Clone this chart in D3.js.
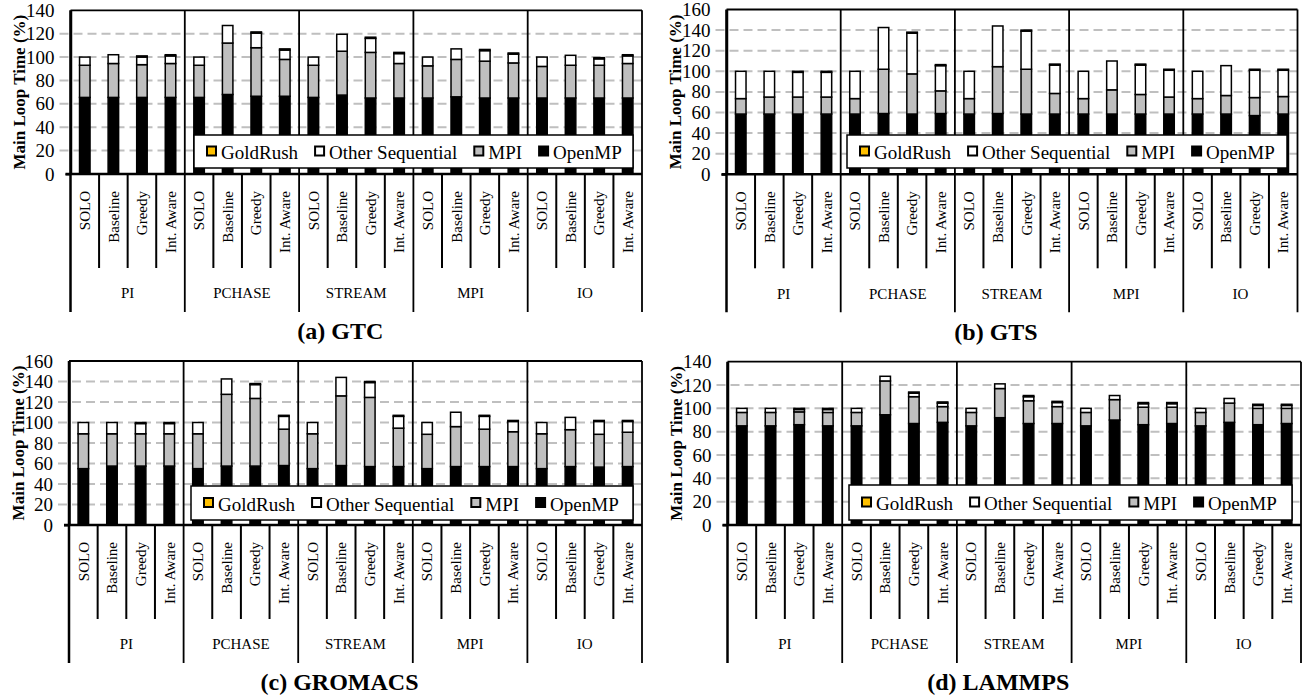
<!DOCTYPE html>
<html>
<head>
<meta charset="utf-8">
<script src="https://cdn.jsdelivr.net/npm/d3@7"></script>
<style>
  body { margin: 0; background: #fff; }
  svg { display: block; }
  svg text { font-family: "Liberation Serif", "Times New Roman", Times, serif; fill: #000; }
</style>
</head>
<body>
<svg id="chart" width="1304" height="698" font-family="Liberation Serif, Times New Roman, serif"></svg>
<script>
// Categories: five interference workloads, four schedulers each
const groups = ["PI", "PCHASE", "STREAM", "MPI", "IO"];
const schedulers = ["SOLO", "Baseline", "Greedy", "Int. Aware"];
const legendNames = ["GoldRush", "Other Sequential", "MPI", "OpenMP"];
const yTicksGTC = [0, 20, 40, 60, 80, 100, 120, 140];
const yTicksGTS = [0, 20, 40, 60, 80, 100, 120, 140, 160];
const yTicksGROMACS = [0, 20, 40, 60, 80, 100, 120, 140, 160];
const yTicksLAMMPS = [0, 20, 40, 60, 80, 100, 120, 140];

// Main loop time breakdown (%), order: PI, PCHASE, STREAM, MPI, IO x (SOLO, Baseline, Greedy, Int. Aware)
const gtcOpenMP   = [65.5,65.5,65.5,65.5, 65.5,68,66.5,66.5, 65.5,67.5,65,65, 65,66,65,65, 65,65,65,65];
const gtcMPI      = [27.5,29,28,29, 27.5,44,41.5,31.5, 27.5,37.5,39,29.5, 27.5,32,31.5,30, 27,28,28,29.5];
const gtcOther    = [7,7.5,6.5,6.5, 7,15,12.5,8, 7,14.5,12,8.5, 7.5,9,9,7.5, 8,8.5,5.5,6.5];
const gtcGoldRush = [0,0,1,1, 0,0,1,1, 0,0,1,1, 0,0,1,1, 0,0,1,1];

const gtsOpenMP   = [58.5,58.5,58.5,58.5, 58.5,59,58.5,59, 58.5,59,58.5,58.5, 58.5,58.5,58.5,58.5, 58.5,58.5,57,58.5];
const gtsMPI      = [15,16.5,16.5,16.5, 15,43,39,22, 15,45.5,43.5,20, 15,23.5,19,16.5, 15,18,17.5,17];
const gtsOther    = [26.5,25,24,24, 26.5,40.5,39.5,24.5, 26.5,39.5,37,27.5, 26.5,28,28.5,26, 26.5,29,26.5,25.5];
const gtsGoldRush = [0,0,1,1, 0,0,1,1, 0,0,1,1, 0,0,1,1, 0,0,1,1];

const gromacsOpenMP   = [55,57.5,57.5,57.5, 55,57.5,57.5,58, 55,58,57,57, 55,57,57,57, 55,57,56.5,57];
const gromacsMPI      = [34,31.5,31.5,31.5, 34,70,66,35.5, 34,68,67.5,37.5, 33.5,39,36.5,34, 34,36,32,33.5];
const gromacsOther    = [11,11,10,10, 11,15,13.5,12.5, 11,18,14.5,11.5, 11.5,14,12.5,10, 11,12,12.5,10.5];
const gromacsGoldRush = [0,0,1,1, 0,0,1,1, 0,0,1,1, 0,0,1,1, 0,0,1,1];

const lammpsOpenMP   = [85,85,86,85, 85,94.5,87,88, 85,92,87,87, 85,90,86,87, 85,88,86,87];
const lammpsMPI      = [11.5,11.5,11,11.5, 11.5,29,23,13.5, 11.5,25,19.5,14.5, 11.5,17.5,15,14, 11.5,16.5,14,13];
const lammpsOther    = [3.5,3.5,2,2.5, 3.5,4,3,3, 3.5,4,3.5,3.5, 3.5,3.5,3,3, 3.5,4,2.5,2.5];
const lammpsGoldRush = [0,0,1,1, 0,0,1,1, 0,0,1,1, 0,0,1,1, 0,0,1,1];

const colors = { OpenMP: "#000000", MPI: "#bfbfbf", Other: "#ffffff", GoldRush: "#ffc000" };
const legendColors = ["#ffc000", "#ffffff", "#bfbfbf", "#000000"];
const FONT = "'Liberation Serif', 'Times New Roman', serif";

const panels = [
  { caption: "(a) GTC", x0: 70.5, x1: 642, top: 10.3, zero: 174, ticks: yTicksGTC,
    legend: [194, 135, 439, 33],
    omp: gtcOpenMP, mpi: gtcMPI, other: gtcOther, gr: gtcGoldRush },
  { caption: "(b) GTS", x0: 726.5, x1: 1297.5, top: 9.5, zero: 174.3, ticks: yTicksGTS,
    legend: [847, 135, 440, 33],
    omp: gtsOpenMP, mpi: gtsMPI, other: gtsOther, gr: gtsGoldRush },
  { caption: "(c) GROMACS", x0: 69, x1: 642, top: 361, zero: 525, ticks: yTicksGROMACS,
    legend: [191, 486, 442, 34],
    omp: gromacsOpenMP, mpi: gromacsMPI, other: gromacsOther, gr: gromacsGoldRush },
  { caption: "(d) LAMMPS", x0: 727.5, x1: 1301, top: 361.7, zero: 525, ticks: yTicksLAMMPS,
    legend: [849, 485, 443, 35],
    omp: lammpsOpenMP, mpi: lammpsMPI, other: lammpsOther, gr: lammpsGoldRush }
];

const svg = d3.select("#chart");
const cats = groups.flatMap(g => schedulers.map(s => g + "|" + s));
const keys = ["OpenMP", "MPI", "Other", "GoldRush"];

panels.forEach(p => {
  const g = svg.append("g").attr("font-family", FONT);
  const yMax = p.ticks[p.ticks.length - 1];
  const x = d3.scaleBand().domain(cats).range([p.x0, p.x1]).padding(0);
  const xg = d3.scaleBand().domain(groups).range([p.x0, p.x1]).padding(0);
  const y = d3.scaleLinear().domain([0, yMax]).range([p.zero, p.top]);

  // dashed gridlines
  g.append("g").selectAll("line")
    .data(p.ticks.filter(t => t > 0 && t < yMax))
    .join("line")
    .attr("x1", p.x0 - 11).attr("x2", p.x1)
    .attr("y1", d => y(d)).attr("y2", d => y(d))
    .attr("stroke", "#bfbfbf").attr("stroke-width", 2)
    .attr("stroke-dasharray", "9,5");

  // stacked bars
  const rows = cats.map((c, i) => ({
    cat: c, OpenMP: p.omp[i], MPI: p.mpi[i], Other: p.other[i], GoldRush: p.gr[i]
  }));
  const stacked = d3.stack().keys(keys)(rows);
  const bw = 10.5;
  g.append("g").selectAll("g")
    .data(stacked)
    .join("g")
    .attr("fill", d => colors[d.key])
    .selectAll("rect")
    .data(d => d.filter(s => s[1] - s[0] > 0))
    .join("rect")
    .attr("x", d => x(d.data.cat) + x.bandwidth() / 2 - bw / 2)
    .attr("width", bw)
    .attr("y", d => y(d[1]))
    .attr("height", d => y(d[0]) - y(d[1]))
    .attr("stroke", "#000").attr("stroke-width", 1.5);

  // y axis
  const yAxis = g.append("g")
    .attr("transform", `translate(${p.x0},0)`)
    .call(d3.axisLeft(y).tickValues(p.ticks).tickSizeInner(5).tickSizeOuter(0).tickPadding(11));
  yAxis.attr("font-family", FONT).attr("font-size", 19);
  yAxis.select(".domain").attr("stroke", "#000").attr("stroke-width", 2.5);
  yAxis.selectAll(".tick line").attr("stroke", d => d === 0 ? "#000" : "none").attr("stroke-width", 2);
  yAxis.selectAll(".tick text").attr("font-family", FONT).attr("font-size", 19);

  // frame: top border and x axis
  g.append("line").attr("x1", p.x0).attr("x2", p.x1).attr("y1", p.top).attr("y2", p.top)
    .attr("stroke", "#000").attr("stroke-width", 1.8);
  g.append("line").attr("x1", p.x0 - 5).attr("x2", p.x1).attr("y1", p.zero).attr("y2", p.zero)
    .attr("stroke", "#000").attr("stroke-width", 2.5);

  // group separators, running down through the label area
  const bounds = groups.map(d => xg(d)).concat([p.x1]);
  g.append("g").selectAll("line")
    .data(bounds)
    .join("line")
    .attr("x1", d => d).attr("x2", d => d)
    .attr("y1", p.top).attr("y2", p.zero + 138)
    .attr("stroke", "#000").attr("stroke-width", (d, i) => (i === 0 ? 2.5 : 1.8));

  // category separators below the axis
  const inner = cats.filter(c => !c.endsWith("|SOLO")).map(c => x(c));
  g.append("g").selectAll("line")
    .data(inner)
    .join("line")
    .attr("x1", d => d).attr("x2", d => d)
    .attr("y1", p.zero).attr("y2", p.zero + 94)
    .attr("stroke", "#000").attr("stroke-width", 2);

  // scheduler labels (rotated)
  g.append("g").selectAll("text")
    .data(cats)
    .join("text")
    .attr("transform", d => `translate(${x(d) + x.bandwidth() / 2},${p.zero + 17}) rotate(-90)`)
    .attr("text-anchor", "end")
    .attr("dy", "0.35em")
    .attr("font-family", FONT)
    .attr("font-size", 15)
    .text(d => d.split("|")[1]);

  // workload labels
  g.append("g").selectAll("text")
    .data(groups)
    .join("text")
    .attr("x", d => xg(d) + xg.bandwidth() / 2)
    .attr("y", p.zero + 119)
    .attr("dy", "0.35em")
    .attr("text-anchor", "middle")
    .attr("font-family", FONT)
    .attr("font-size", 15)
    .text(d => d);

  // y title
  g.append("text")
    .attr("transform", `translate(${p.x0 - 51},${(p.top + p.zero) / 2}) rotate(-90)`)
    .attr("text-anchor", "middle")
    .attr("dy", "0.35em")
    .attr("font-family", FONT)
    .attr("font-size", 17)
    .attr("font-weight", "bold")
    .text("Main Loop Time (%)");

  // caption
  g.append("text")
    .attr("x", (p.x0 + p.x1) / 2 - 16)
    .attr("y", p.zero + 157)
    .attr("dy", "0.35em")
    .attr("text-anchor", "middle")
    .attr("font-family", FONT)
    .attr("font-size", 24)
    .attr("font-weight", "bold")
    .text(p.caption);

  // legend
  const [lx, ly, lw, lh] = p.legend;
  const lg = g.append("g");
  lg.append("rect").attr("x", lx).attr("y", ly).attr("width", lw).attr("height", lh)
    .attr("fill", "#fff").attr("stroke", "#000").attr("stroke-width", 1.5);
  let cx = lx + 13;
  const cy = ly + lh / 2;
  legendNames.forEach((name, i) => {
    lg.append("rect").attr("x", cx).attr("y", cy - 5).attr("width", 9).attr("height", 9)
      .attr("fill", legendColors[i]).attr("stroke", "#000").attr("stroke-width", 2);
    const t = lg.append("text").attr("x", cx + 14).attr("y", cy + 1).attr("dy", "0.35em")
      .attr("font-family", FONT).attr("font-size", 19).text(name);
    cx = cx + 14 + t.node().getComputedTextLength() + 17;
  });
});
</script>
</body>
</html>
